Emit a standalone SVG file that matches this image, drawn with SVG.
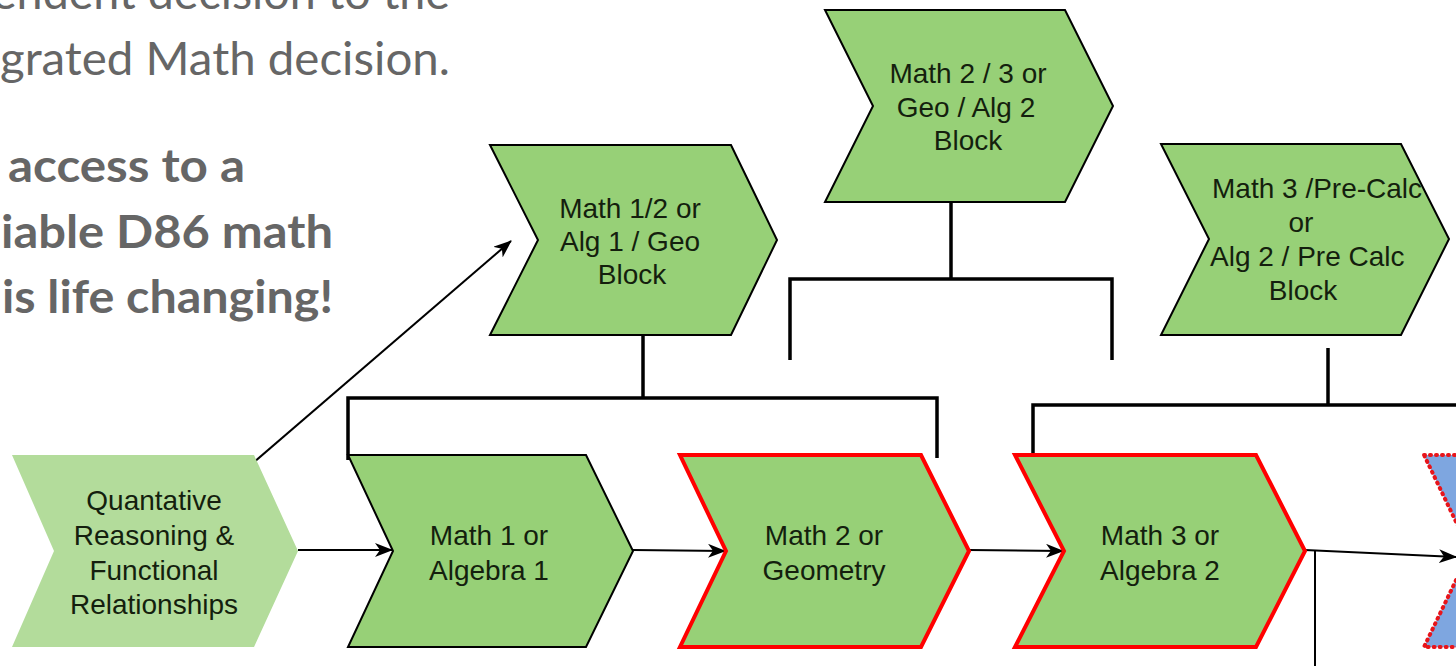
<svg xmlns="http://www.w3.org/2000/svg" width="1456" height="666" viewBox="0 0 1456 666">
  <style>
    .lead { font-family: Lato, "Open Sans", sans-serif; fill: #666666; font-size: 46px; }
    .lead-b { font-family: Lato, "Open Sans", sans-serif; fill: #666666; font-size: 45px; font-weight: bold; }
    .lbl { font-family: "Liberation Sans", Arial, sans-serif; font-size: 28px; fill: #141f0e; text-anchor: middle; }
    .lbl-s { font-family: "Liberation Sans", Arial, sans-serif; font-size: 28px; fill: #141f0e; }
    .step { fill: #97d077; stroke: #000000; stroke-width: 2; stroke-linejoin: miter; }
    .step-red { fill: #97d077; stroke: #ff0000; stroke-width: 4; stroke-linejoin: miter; }
    .step-light { fill: #b3dc9b; stroke: none; }
    .step-blue { fill: #7ea6e0; stroke: #e8141a; stroke-width: 4; stroke-dasharray: 1 5; stroke-linecap: round; }
    .link { fill: none; stroke: #000000; stroke-width: 2; }
    .bracket { fill: none; stroke: #000000; stroke-width: 3.5; stroke-linejoin: miter; }
  </style>
  <defs>
    <marker id="arrow" markerUnits="userSpaceOnUse" markerWidth="18" markerHeight="14" refX="17" refY="7" orient="auto">
      <path d="M0,0 L18,7 L0,14 L5,7 Z" fill="#000000"/>
    </marker>
  </defs>

  <rect width="1456" height="666" fill="#ffffff"/>

  <!-- slide text on the left -->
  <g id="slide-text">
    <text class="lead" x="450" y="9" text-anchor="end" textLength="458" lengthAdjust="spacingAndGlyphs">endent decision to the</text>
    <text class="lead" x="450" y="75" text-anchor="end" textLength="450" lengthAdjust="spacingAndGlyphs">grated Math decision.</text>
    <text class="lead-b" x="245" y="182" text-anchor="end" textLength="237" lengthAdjust="spacingAndGlyphs">access to a</text>
    <text class="lead-b" x="333" y="248" text-anchor="end" textLength="332" lengthAdjust="spacingAndGlyphs">iable D86 math</text>
    <text class="lead-b" x="333" y="313" text-anchor="end" textLength="331" lengthAdjust="spacingAndGlyphs">is life changing!</text>
  </g>

  <!-- connectors -->
  <g id="connectors">
    <line class="link" x1="253" y1="463" x2="511" y2="241" marker-end="url(#arrow)"/>
    <line class="link" x1="298" y1="550" x2="392" y2="550" marker-end="url(#arrow)"/>
    <line class="link" x1="633" y1="550" x2="725" y2="551" marker-end="url(#arrow)"/>
    <line class="link" x1="969" y1="550" x2="1063" y2="551" marker-end="url(#arrow)"/>
    <line class="link" x1="1305" y1="550" x2="1456" y2="557" marker-end="url(#arrow)"/>
    <line class="link" x1="1315" y1="551" x2="1315" y2="666"/>

    <line class="bracket" x1="643" y1="335" x2="643" y2="398"/>
    <polyline class="bracket" points="348,460 348,398 937,398 937,458"/>

    <line class="bracket" x1="951" y1="202" x2="951" y2="279"/>
    <polyline class="bracket" points="790,360 790,279 1112,279 1112,360"/>

    <line class="bracket" x1="1328" y1="348" x2="1328" y2="405"/>
    <polyline class="bracket" points="1033,465 1033,405 1460,405"/>
  </g>

  <!-- bottom row -->
  <g id="node-quantative">
    <polygon class="step-light" points="12,455 254,455 298,551 254,647 12,647 54,551"/>
    <text class="lbl" x="154" y="510">Quantative</text>
    <text class="lbl" x="154" y="545">Reasoning &amp;</text>
    <text class="lbl" x="154" y="580">Functional</text>
    <text class="lbl" x="154" y="614">Relationships</text>
  </g>

  <g id="node-math1">
    <polygon class="step" points="348,455 586,455 633,551 586,647 348,647 393,551"/>
    <text class="lbl" x="489" y="545">Math 1 or</text>
    <text class="lbl" x="489" y="580">Algebra 1</text>
  </g>

  <g id="node-math2">
    <polygon class="step-red" points="680,455 921,455 969,551 921,647 680,647 726,551"/>
    <text class="lbl" x="824" y="545">Math 2 or</text>
    <text class="lbl" x="824" y="580">Geometry</text>
  </g>

  <g id="node-math3">
    <polygon class="step-red" points="1015,455 1256,455 1305,551 1256,647 1015,647 1064,551"/>
    <text class="lbl" x="1160" y="545">Math 3 or</text>
    <text class="lbl" x="1160" y="580">Algebra 2</text>
  </g>

  <g id="node-next">
    <polygon class="step-blue" points="1424,455 1700,455 1748,551 1700,647 1424,647 1470,551"/>
  </g>

  <!-- block options -->
  <g id="node-block-1-2">
    <polygon class="step" points="490,145 731,145 777,240 731,335 490,335 538,240"/>
    <text class="lbl" x="630" y="218">Math 1/2 or</text>
    <text class="lbl" x="630" y="251">Alg 1 / Geo</text>
    <text class="lbl" x="632" y="284">Block</text>
  </g>

  <g id="node-block-2-3">
    <polygon class="step" points="825,10 1065,10 1113,106 1065,202 825,202 873,106"/>
    <text class="lbl" x="968" y="83">Math 2 / 3 or</text>
    <text class="lbl" x="966" y="117">Geo / Alg 2</text>
    <text class="lbl" x="968" y="150">Block</text>
  </g>

  <g id="node-block-3-pc">
    <polygon class="step" points="1161,144 1401,144 1449,239 1401,335 1161,335 1209,239"/>
    <text class="lbl-s" x="1212" y="198">Math 3 /Pre-Calc</text>
    <text class="lbl" x="1301" y="232">or</text>
    <text class="lbl-s" x="1210" y="266">Alg 2 / Pre Calc</text>
    <text class="lbl" x="1303" y="300">Block</text>
  </g>
</svg>
